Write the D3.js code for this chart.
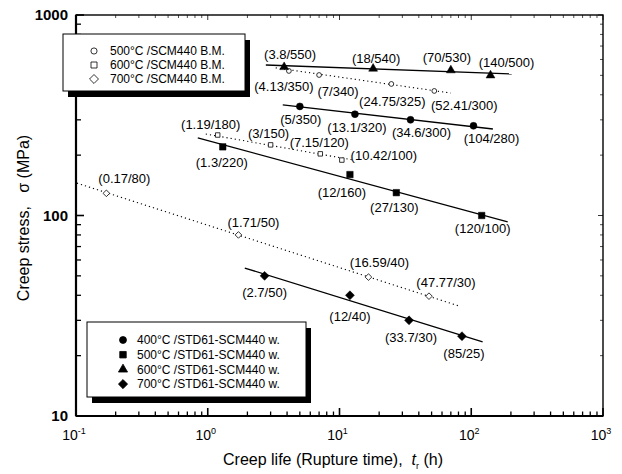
<!DOCTYPE html>
<html>
<head>
<meta charset="utf-8">
<script src="https://cdn.jsdelivr.net/npm/d3@7"></script>
<style>
  body { margin: 0; background: #fff; }
  svg { display: block; font-family: Arial, "Liberation Sans", sans-serif; }
</style>
</head>
<body>
<svg id="chart" width="622" height="474"></svg>
<script>
// ****** Data
// welded specimens - plotted at the labelled values
var w400T = [5, 13.1, 34.6, 104],   w400S = [350, 320, 300, 280];
var w500T = [1.3, 12, 27, 120],     w500S = [220, 160, 130, 100];
var w600T = [3.8, 18, 70, 140],     w600S = [550, 540, 530, 500];
var w700T = [2.7, 12, 33.7, 85],    w700S = [50, 40, 30, 25];
// base metal - labelled stress and the stress where the point is drawn
var bm500T = [4.13, 7, 24.75, 52.41],  bm500S = [350, 340, 325, 300],  bm500Drawn = [526, 502, 453, 418];
var bm600T = [1.19, 3, 7.15, 10.42],   bm600S = [180, 150, 120, 100],  bm600Drawn = [252, 225, 203, 189];
var bm700T = [0.17, 1.71, 16.59, 47.77], bm700S = [80, 50, 40, 30],    bm700Drawn = [129, 80, 49.3, 39.6];
// fitted lines (start / end)
var fitW400 = [[3.71, 356], [146, 270]];
var fitW500 = [[0.84, 244], [189, 92.9]];
var fitW600 = [[2.76, 563], [203, 508]];
var fitW700 = [[1.91, 54.7], [122, 23.4]];
var fitB500 = [[3.28, 545], [69.9, 408]];
var fitB600 = [[0.966, 255], [12.8, 189]];
var fitB700 = [[0.1016, 145], [80.4, 35.4]];

var legendBM = ['500°C /SCM440 B.M.', '600°C /SCM440 B.M.', '700°C /SCM440 B.M.'];
var legendW = ['400°C /STD61-SCM440 w.', '500°C /STD61-SCM440 w.', '600°C /STD61-SCM440 w.', '700°C /STD61-SCM440 w.'];
var xTickExp = [-1, 0, 1, 2, 3];
var yTickVals = [10, 100, 1000];

// ****** Layout
var svg = d3.select('#chart');
var plot = {left: 76, right: 603, top: 15, bottom: 416};
var x = d3.scaleLog().domain([0.1, 1000]).range([plot.left, plot.right]);
var y = d3.scaleLog().domain([10, 1000]).range([plot.bottom, plot.top]);

// label offsets from the point (px), per series
var offW400 = [[1,13],[2,13],[11,13],[18,13]];
var offW500 = [[-1,16],[-8,18],[-2,15],[1,13]];
var offW600 = [[6,-13],[3,-10],[-4,-13],[16,-13]];
var offW700 = [[0,17],[0,21],[2,17],[2,17]];
var offB500 = [[-5,16],[19,16],[1,17],[30,14]];
var offB600 = [[-7,-11],[-2,-11],[-1,-11],[42,-5]];
var offB700 = [[18,-15],[15,-12],[11,-15],[17,-14]];

// square diamond (a square turned 45 degrees)
var symDiamond = {
  draw: function(ctx, size) {
    var r = Math.sqrt(size / 2);
    ctx.moveTo(0, -r); ctx.lineTo(r, 0); ctx.lineTo(0, r); ctx.lineTo(-r, 0); ctx.closePath();
  }
};

// ****** Axes (inward ticks on all sides)
var decades = d3.range(-1, 3);
var xMinor = [], yMinor = [];
decades.forEach(function(e) { for (var k = 2; k <= 9; k++) xMinor.push(k * Math.pow(10, e)); });
[1, 2].forEach(function(e) { for (var k = 2; k <= 9; k++) yMinor.push(k * Math.pow(10, e)); });
var xMajor = xTickExp.map(function(e) { return Math.pow(10, e); });

var ax = svg.append('g').attr('stroke', '#000').attr('fill', 'none');
function tickX(v, len, yy, dir, w) {
  ax.append('line').attr('x1', x(v)).attr('x2', x(v)).attr('y1', yy).attr('y2', yy + dir * len).attr('stroke-width', w);
}
function tickY(v, len, xx, dir, w) {
  ax.append('line').attr('y1', y(v)).attr('y2', y(v)).attr('x1', xx).attr('x2', xx + dir * len).attr('stroke-width', w);
}
xMajor.forEach(function(v) { tickX(v, 8, plot.bottom, -1, 1.6); tickX(v, 5, plot.top, 1, 0.8); });
xMinor.forEach(function(v) { tickX(v, 4.5, plot.bottom, -1, 1.3); tickX(v, 3, plot.top, 1, 0.7); });
yTickVals.forEach(function(v) { tickY(v, 8, plot.left, 1, 1.6); tickY(v, 5, plot.right, -1, 0.8); });
yMinor.forEach(function(v) { tickY(v, 5, plot.left, 1, 1.3); tickY(v, 3, plot.right, -1, 0.7); });

ax.append('rect').attr('x', plot.left).attr('y', plot.top)
  .attr('width', plot.right - plot.left).attr('height', plot.bottom - plot.top)
  .attr('stroke-width', 1.4);
ax.append('line').attr('x1', plot.left).attr('x2', plot.left).attr('y1', plot.top).attr('y2', plot.bottom).attr('stroke-width', 2.2);
ax.append('line').attr('x1', plot.left).attr('x2', plot.right).attr('y1', plot.bottom).attr('y2', plot.bottom).attr('stroke-width', 2.2);

// tick labels
var xl = svg.append('g').attr('font-size', 14).attr('fill', '#000');
xTickExp.forEach(function(e) {
  var t = xl.append('text').attr('x', x(Math.pow(10, e)) - 2).attr('y', 440).attr('text-anchor', 'middle');
  t.append('tspan').text('10');
  t.append('tspan').attr('dy', -6).attr('font-size', 9).text(e);
});
svg.append('g').selectAll('text').data(yTickVals).join('text')
  .attr('x', 68).attr('y', function(d) { return y(d); }).attr('dy', '0.35em')
  .attr('text-anchor', 'end').attr('font-size', 15).attr('font-weight', 'bold')
  .text(function(d) { return d; });

// axis titles
var xt = svg.append('text').attr('x', 333).attr('y', 465).attr('text-anchor', 'middle')
  .attr('font-size', 16).style('white-space', 'pre');
xt.append('tspan').text('Creep life (Rupture time),  ');
xt.append('tspan').attr('font-style', 'italic').text('t');
xt.append('tspan').attr('font-size', 9).attr('dy', 4).text('r');
xt.append('tspan').attr('dy', -4).text(' (h)');

svg.append('text').attr('transform', 'translate(29,218) rotate(-90)')
  .attr('text-anchor', 'middle').attr('font-size', 16).style('white-space', 'pre')
  .text('Creep stress,   σ (MPa)');

// ****** Series
var line = d3.line().x(function(d) { return x(d[0]); }).y(function(d) { return y(d[1]); });
var g = svg.append('g');

function drawFit(pts, dotted) {
  g.append('path').attr('d', line(pts)).attr('fill', 'none').attr('stroke', '#000')
    .attr('stroke-width', dotted ? 1.1 : 1.3)
    .attr('stroke-dasharray', dotted ? '1.2,3' : null);
}
function drawPoints(ts, ss, labels, offs, sym, size, filled) {
  ts.forEach(function(t, i) {
    g.append('path').attr('d', d3.symbol().type(sym).size(size)())
      .attr('transform', 'translate(' + x(t) + ',' + y(ss[i]) + ')')
      .attr('fill', filled ? '#000' : '#fff').attr('stroke', '#000').attr('stroke-width', filled ? 0.5 : 0.8);
    g.append('text').attr('x', x(t) + offs[i][0]).attr('y', y(ss[i]) + offs[i][1])
      .attr('dy', '0.35em').attr('text-anchor', 'middle').attr('font-size', 13)
      .text(labels[i]);
  });
}
function lab(ts, ss) { return ts.map(function(t, i) { return '(' + t + '/' + ss[i] + ')'; }); }

drawFit(fitB500, true); drawFit(fitB600, true); drawFit(fitB700, true);
drawFit(fitW400, false); drawFit(fitW500, false); drawFit(fitW600, false); drawFit(fitW700, false);

drawPoints(bm500T, bm500Drawn, lab(bm500T, bm500S), offB500, d3.symbolCircle, 18, false);
drawPoints(bm600T, bm600Drawn, lab(bm600T, bm600S), offB600, d3.symbolSquare, 20, false);
drawPoints(bm700T, bm700Drawn, lab(bm700T, bm700S), offB700, symDiamond, 22, false);
drawPoints(w400T, w400S, lab(w400T, w400S), offW400, d3.symbolCircle, 38, true);
drawPoints(w500T, w500S, lab(w500T, w500S), offW500, d3.symbolSquare, 42, true);
drawPoints(w600T, w600S, lab(w600T, w600S), offW600, d3.symbolTriangle, 34, true);
drawPoints(w700T, w700S, lab(w700T, w700S), offW700, symDiamond, 40, true);

// ****** Legends (box with drop shadow)
function legend(bx, by, bw, bh, rowY, step, symX, items, syms, filled) {
  var lg = svg.append('g');
  lg.append('rect').attr('x', bx + 5).attr('y', by + 6).attr('width', bw).attr('height', bh).attr('fill', '#000');
  lg.append('rect').attr('x', bx).attr('y', by).attr('width', bw).attr('height', bh)
    .attr('fill', '#fff').attr('stroke', '#000').attr('stroke-width', 1);
  items.forEach(function(txt, i) {
    var yy = rowY + i * step;
    lg.append('path').attr('d', d3.symbol().type(syms[i].type).size(syms[i].size)())
      .attr('transform', 'translate(' + symX + ',' + yy + ')')
      .attr('fill', filled ? '#000' : '#fff').attr('stroke', '#000').attr('stroke-width', 0.8);
    lg.append('text').attr('x', symX + (filled ? 14 : 16)).attr('y', yy).attr('dy', '0.35em')
      .attr('font-size', 12).text(txt);
  });
}
legend(63, 34, 182, 57, 51, 14, 94, legendBM,
  [{type: d3.symbolCircle, size: 30}, {type: d3.symbolSquare, size: 36}, {type: symDiamond, size: 40}], false);
legend(87, 322, 219, 75, 340, 14.7, 123, legendW,
  [{type: d3.symbolCircle, size: 38}, {type: d3.symbolSquare, size: 42}, {type: d3.symbolTriangle, size: 36}, {type: symDiamond, size: 42}], true);
</script>
</body>
</html>
